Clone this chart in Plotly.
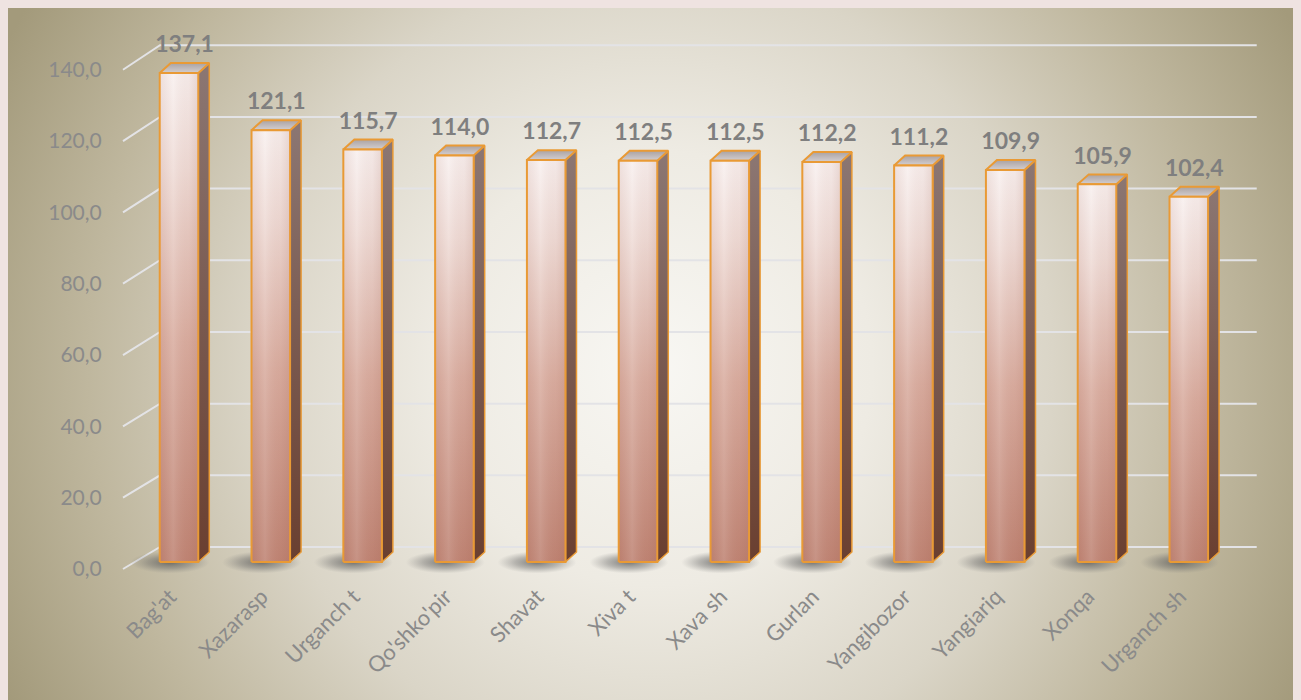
import plotly.graph_objects as go

# ---------------- data ----------------
categories = ["Bag'at", "Xazarasp", "Urganch t", "Qo'shko'pir", "Shavat", "Xiva t",
              "Xava sh", "Gurlan", "Yangibozor", "Yangiariq", "Xonqa", "Urganch sh"]
values = [137.1, 121.1, 115.7, 114.0, 112.7, 112.5, 112.5, 112.2, 111.2, 109.9, 105.9, 102.4]
y_ticks = [0, 20, 40, 60, 80, 100, 120, 140]

# ---------------- styling / geometry ----------------
W, H = 1293, 692          # page body has an 8px margin
FONT = "Lato, Carlito, 'Open Sans', sans-serif"
BAR_W = 0.42          # front face width (category units)
DEPTH_X = 0.12        # 3D depth offset (category units)
DEPTH_Y = 2.8         # 3D depth offset (value units)
FLOOR_SHIFT = 1.96    # bars sit slightly behind the front edge of the floor
BACK_DY = 6.17        # back wall offset of gridlines
BACK_K = 1.005
LABEL_DY = 1.4
X_RANGE = [-0.7, 11.9]
Y3_RANGE = [-5.5, 150]
Y2_RANGE = [Y3_RANGE[0] + FLOOR_SHIFT, Y3_RANGE[1] + FLOOR_SHIFT]
GRID_X = [-0.61, -0.207, 11.74]

# pixel mapping of the plotting area
X0_PX, X_STEP = 171.0, 91.8
Y0_PX, Y_K = 554.0, 3.566
x_lo_px = X0_PX + X_RANGE[0] * X_STEP
x_hi_px = X0_PX + X_RANGE[1] * X_STEP
y_bot_px = Y0_PX - Y3_RANGE[0] * Y_K
y_top_px = Y0_PX - Y3_RANGE[1] * Y_K
PLOT_X = [x_lo_px / W, x_hi_px / W]
PLOT_Y = [(H - y_bot_px) / H, (H - y_top_px) / H]

ORANGE = "#e99a35"

fig = go.Figure()

# ---------------- background (radial gradient panel) ----------------
R = 725
hx = R / W
hy = R / H
cx, cy = 0.5, 0.48
fig.add_trace(go.Scatter(
    x=[cx - hx, cx + hx, cx + hx, cx - hx, cx - hx],
    y=[cy - hy, cy - hy, cy + hy, cy + hy, cy - hy],
    mode="lines", line=dict(width=0), fill="toself",
    fillgradient=dict(type="radial", colorscale=[
        [0.0, "#f8f7f3"], [0.3, "#eeebe3"], [0.55, "#dad5c7"],
        [0.78, "#bfb79e"], [1.0, "#a39a7b"]]),
    xaxis="x", yaxis="y", hoverinfo="skip", showlegend=False))

# ---------------- gridlines (slanted side wall + back wall) ----------------
gx, gy = [], []
for v in y_ticks:
    back = v * BACK_K + BACK_DY
    gx += [GRID_X[0], GRID_X[1], GRID_X[2], None]
    gy += [v, back, back, None]
fig.add_trace(go.Scatter(x=gx, y=gy, mode="lines",
                         line=dict(color="#e3e3e6", width=2),
                         xaxis="x2", yaxis="y2", hoverinfo="skip", showlegend=False))

# ---------------- bars ----------------
for i, v in enumerate(values):
    xl, xr = i - BAR_W / 2, i + BAR_W / 2
    # soft shadow on the floor
    fig.add_trace(go.Scatter(
        x=[xl - 0.32, xr + 0.12, xr + 0.12, xl - 0.32, xl - 0.32],
        y=[-3.2, -3.2, 3.0, 3.0, -3.2],
        mode="lines", line=dict(width=0), fill="toself",
        fillgradient=dict(type="radial", colorscale=[
            [0.0, "rgba(80,80,80,0.75)"], [0.55, "rgba(100,100,100,0.40)"],
            [1.0, "rgba(120,120,120,0)"]]),
        xaxis="x2", yaxis="y3", hoverinfo="skip", showlegend=False))
    # side face
    fig.add_trace(go.Scatter(
        x=[xr, xr + DEPTH_X, xr + DEPTH_X, xr, xr],
        y=[0, DEPTH_Y, v + DEPTH_Y, v, 0],
        mode="lines", line=dict(color=ORANGE, width=1.5), fill="toself",
        fillgradient=dict(type="vertical", colorscale=[
            [0.0, "#6a3f30"], [0.5, "#7a5a50"], [1.0, "#8c7773"]]),
        xaxis="x2", yaxis="y3", hoverinfo="skip", showlegend=False))
    # top face
    fig.add_trace(go.Scatter(
        x=[xl, xl + DEPTH_X, xr + DEPTH_X, xr, xl],
        y=[v, v + DEPTH_Y, v + DEPTH_Y, v, v],
        mode="lines", line=dict(color=ORANGE, width=2), fill="toself",
        fillgradient=dict(type="vertical", colorscale=[
            [0.0, "#d4cfd0"], [1.0, "#aaa2a2"]]),
        xaxis="x2", yaxis="y3", hoverinfo="skip", showlegend=False))
    # front face
    fig.add_trace(go.Scatter(
        x=[xl, xr, xr, xl, xl],
        y=[0, 0, v, v, 0],
        mode="lines", line=dict(width=0), fill="toself",
        fillgradient=dict(type="vertical", colorscale=[
            [0.0, "#bf8474"], [0.45, "#d9ada0"], [0.8, "#efdcd7"], [1.0, "#f8f0ef"]]),
        xaxis="x2", yaxis="y3", hoverinfo="skip", showlegend=False))
    # cylindrical shading overlay + outline
    fig.add_trace(go.Scatter(
        x=[xl, xr, xr, xl, xl],
        y=[0, 0, v, v, 0],
        mode="lines", line=dict(color=ORANGE, width=2), fill="toself",
        fillgradient=dict(type="horizontal", colorscale=[
            [0.0, "rgba(150,80,60,0.10)"], [0.35, "rgba(255,255,255,0.12)"],
            [0.75, "rgba(150,80,60,0.05)"], [1.0, "rgba(150,80,60,0.16)"]]),
        xaxis="x2", yaxis="y3", hoverinfo="skip", showlegend=False))

# ---------------- value labels ----------------
fig.add_trace(go.Scatter(
    x=[i + DEPTH_X / 2 for i in range(len(values))],
    y=[v + DEPTH_Y + LABEL_DY for v in values],
    mode="text",
    text=[f"{v:.1f}".replace(".", ",") for v in values],
    textposition="top center",
    textfont=dict(family=FONT, size=23, color="#7f7f7f", weight="bold"),
    cliponaxis=False,
    xaxis="x2", yaxis="y3", hoverinfo="skip", showlegend=False))

fig.update_layout(
    width=W, height=H, autosize=False,
    margin=dict(l=0, r=0, t=0, b=0, pad=0),
    paper_bgcolor="#a39a7b", plot_bgcolor="rgba(0,0,0,0)",
    separators=", ",
    showlegend=False,
    xaxis=dict(domain=[0, 1], range=[0, 1], visible=False, fixedrange=True),
    yaxis=dict(domain=[0, 1], range=[0, 1], visible=False, fixedrange=True),
    xaxis2=dict(domain=PLOT_X, range=X_RANGE, anchor="y2",
                tickmode="array", tickvals=list(range(len(categories))), ticktext=categories,
                tickangle=-45, tickfont=dict(family=FONT, size=22, color="#8a8a8a"),
                ticklabelshift=-9, ticklabelstandoff=-3,
                showgrid=False, zeroline=False, showline=False, ticks=""),
    yaxis2=dict(domain=PLOT_Y, range=Y2_RANGE, anchor="x2",
                tickmode="array", tickvals=y_ticks, tickformat=".1f",
                tickfont=dict(family=FONT, size=21, color="#8a8a8a"),
                ticklabelstandoff=12,
                showgrid=False, zeroline=False, showline=False, ticks=""),
    yaxis3=dict(overlaying="y2", range=Y3_RANGE, anchor="x2", visible=False),
)

fig.write_html(
    "out.html",
    post_script="document.body.style.backgroundColor='#efe3e1';"
                "var d=document.getElementById('{plot_id}');"
                "if(d){d.style.outline='1px solid #d6dadb';}",
)
